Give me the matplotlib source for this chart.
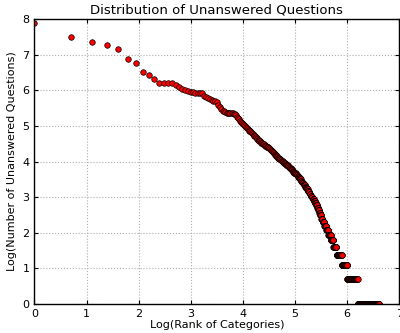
import numpy as np
import matplotlib
matplotlib.use("Agg")
import matplotlib.pyplot as plt

# counts of unanswered questions for the top-ranked categories (rank 1..123)
top_counts = [
    2697, 1790, 1572, 1451, 1274, 982, 863, 679, 614, 556,
    497, 497, 493, 493, 473, 437, 416, 408, 395, 388,
    380, 378, 376, 374, 372, 344, 330, 320, 314, 305,
    299, 296, 290, 270, 250, 235, 228, 224, 219, 215,
    214, 213, 212, 212, 211, 210, 209, 200, 192, 185,
    178, 170, 164, 159, 155, 150, 147, 143, 139, 136,
    133, 130, 127, 124, 121, 118, 116, 113, 111, 109,
    107, 104, 101, 100, 98, 96, 95, 93, 92, 90,
    89, 88, 86, 85, 84, 83, 82, 81, 81, 80,
    79, 77, 76, 75, 74, 73, 72, 71, 70, 69,
    67, 66, 65, 64, 63, 62, 61, 60, 60, 59,
    59, 58, 57, 57, 56, 56, 55, 54, 54, 53,
    53, 52, 52,
]

# lower counts: value and how many categories share it
tail_values = [51, 50, 49, 48, 47, 46, 45, 44, 43, 42, 41, 40,
               39, 38, 37, 36, 35, 34, 33, 32, 31, 30, 29,
               28, 27, 26, 25, 24, 23, 22,
               21, 20, 19, 18, 17, 16, 15, 14, 13,
               12, 11, 10, 9, 8, 7, 6, 5, 4, 3, 2, 1]
tail_sizes = [2, 2, 2, 2, 2, 2, 2, 2, 2, 2, 2, 3,
              2, 2, 3, 2, 3, 3, 3, 2, 3, 3, 3,
              3, 3, 3, 3, 3, 4, 3,
              4, 4, 5, 5, 5, 5, 5, 4, 4,
              5, 6, 9, 10, 11, 14, 14, 20, 35, 40, 89, 250]

counts = np.concatenate([top_counts, np.repeat(tail_values, tail_sizes)])
ranks = np.arange(1, len(counts) + 1)

fig = plt.figure(figsize=(4.0, 3.33), dpi=100)
ax = fig.add_axes([0.086, 0.087, 0.912, 0.856])

ax.plot(np.log(ranks), np.log(counts), 'o', color='red', markeredgecolor='black',
        markeredgewidth=0.5, markersize=4, linestyle='none')

ax.set_xlim(0, 7)
ax.set_ylim(0, 8)
ax.grid(True, linestyle=':', color='0.68', linewidth=0.8)
ax.tick_params(direction='in', top=True, right=True, labelsize=8, length=3)
for s in ax.spines.values():
    s.set_linewidth(1.0)

ax.set_title('Distribution of Unanswered Questions', fontsize=9.5, pad=4)
ax.set_xlabel('Log(Rank of Categories)', fontsize=8, labelpad=1)
ax.set_ylabel('Log(Number of Unanswered Questions)', fontsize=8, labelpad=4)

fig.savefig('out.png', dpi=100)
